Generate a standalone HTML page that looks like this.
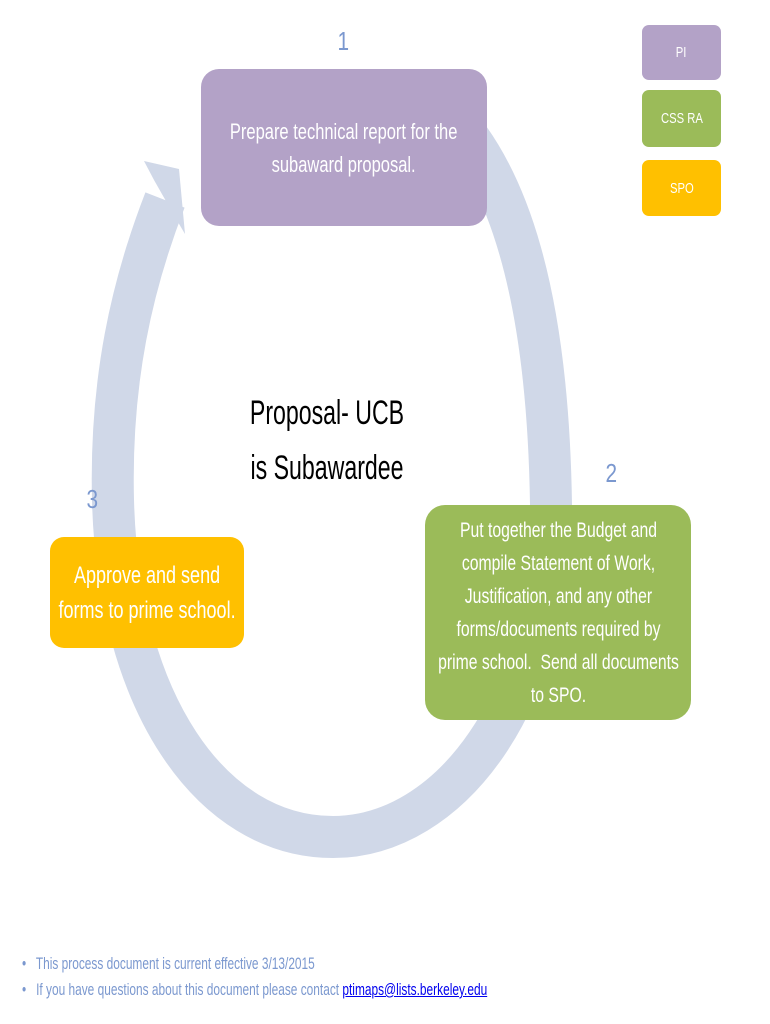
<!DOCTYPE html>
<html><head><meta charset="utf-8"><style>
body{margin:0;width:770px;height:1024px;background:#fff;position:relative;overflow:hidden;font-family:"Liberation Sans",sans-serif;}
.box{position:absolute;color:#fff;text-align:center;display:flex;align-items:center;justify-content:center;box-sizing:border-box;}
.box>div{white-space:nowrap;transform:scaleX(0.75);}
.num{position:absolute;color:#7b98cf;font-size:26px;transform:scaleX(0.8);}
.foot{position:absolute;left:22px;color:#7b98cf;font-size:17px;white-space:nowrap;transform:scaleX(0.7);transform-origin:0 0;}
</style></head><body>
<svg width="770" height="1024" style="position:absolute;left:0;top:0">
<path d="M 440 105 C 510 170, 548 300, 551 505 C 553 700, 450 837, 333 837 C 210 837, 118 700, 113 500 C 110 380, 132 285, 165 200" fill="none" stroke="#d0d8e8" stroke-width="42"/>
<polygon points="144,161 179,169 185,234 175,217 154,180" fill="#d0d8e8"/>
</svg>
<div class="num" style="left:336px;top:26px">1</div>
<div class="num" style="left:604px;top:458px">2</div>
<div class="num" style="left:85px;top:484px">3</div>
<div class="box" style="left:201px;top:69px;width:286px;height:157px;background:#b3a2c7;border-radius:18px;font-size:22px;line-height:33px"><div>Prepare technical report for the<br>subaward proposal.</div></div>
<div class="box" style="left:425px;top:505px;width:266px;height:215px;background:#9bbb59;border-radius:20px;font-size:21px;line-height:33px"><div>Put together the Budget and<br>compile Statement of Work,<br>Justification, and any other<br>forms/documents required by<br>prime school.&nbsp; Send all documents<br>to SPO.</div></div>
<div class="box" style="left:50px;top:537px;width:194px;height:111px;background:#ffc000;border-radius:14px;font-size:24px;line-height:35px"><div>Approve and send<br>forms to prime school.</div></div>
<div class="box" style="left:642px;top:25px;width:79px;height:55px;background:#b3a2c7;border-radius:7px;font-size:15px"><div>PI</div></div>
<div class="box" style="left:642px;top:90px;width:79px;height:57px;background:#9bbb59;border-radius:7px;font-size:15px"><div>CSS RA</div></div>
<div class="box" style="left:642px;top:160px;width:79px;height:56px;background:#ffc000;border-radius:7px;font-size:15px"><div>SPO</div></div>
<div style="position:absolute;left:177px;top:386px;width:300px;text-align:center;font-size:34px;line-height:55px;color:#000;transform:scaleX(0.68)">Proposal- UCB<br>is Subawardee</div>
<div class="foot" style="top:954px">•&nbsp;&nbsp; This process document is current effective 3/13/2015</div>
<div class="foot" style="top:980px">•&nbsp;&nbsp; If you have questions about this document please contact <span style="color:#0000ee;text-decoration:underline">ptimaps@lists.berkeley.edu</span></div>
</body></html>
